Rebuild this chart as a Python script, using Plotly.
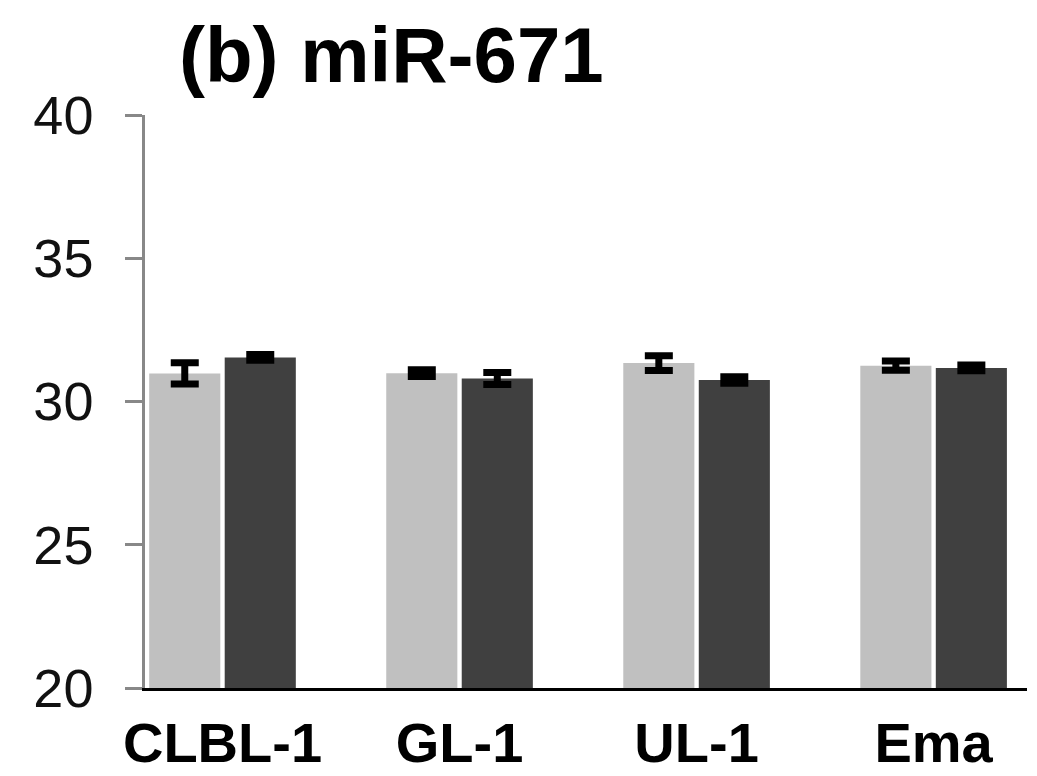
import plotly.graph_objects as go

categories = ["CLBL-1", "GL-1", "UL-1", "Ema"]
light_values = [30.98, 30.99, 31.34, 31.25]
light_errors = [0.37, 0.12, 0.26, 0.16]
dark_values = [31.54, 30.80, 30.75, 31.17]
dark_errors = [0.10, 0.21, 0.11, 0.10]
y_ticks = [20, 25, 30, 35, 40]

LIGHT = "#c0c0c0"
DARK = "#404040"

fig = go.Figure()
fig.add_trace(go.Bar(
    x=categories, y=light_values, marker=dict(color=LIGHT, line=dict(width=0)),
    error_y=dict(type="data", array=light_errors, visible=True,
                 color="black", thickness=7, width=14),
    showlegend=False,
))
fig.add_trace(go.Bar(
    x=categories, y=dark_values, marker=dict(color=DARK, line=dict(width=0)),
    error_y=dict(type="data", array=dark_errors, visible=True,
                 color="black", thickness=7, width=14),
    showlegend=False,
))

fig.update_layout(
    width=1037, height=776,
    margin=dict(l=145, r=10, t=115, b=88, autoexpand=False),
    paper_bgcolor="white", plot_bgcolor="white",
    barmode="group", bargap=0.363, bargroupgap=0.058,
    font=dict(family="Liberation Sans, Arial, sans-serif", color="black"),
    title=dict(
        text="<b>(b) miR-671</b>",
        font=dict(size=78, family="Liberation Sans, Arial, sans-serif", color="black"),
        x=179 / 1037, xanchor="left", xref="container",
        y=1 - 55 / 776, yanchor="middle", yref="container",
    ),
    xaxis=dict(
        type="category", range=[-0.327, 3.394], automargin=False,
        showline=True, linecolor="black", linewidth=3,
        ticks="", showgrid=False, zeroline=False,
        tickfont=dict(size=56, family="Liberation Sans, Arial, sans-serif",
                      color="black", weight="bold"),
        ticklabelstandoff=4,
    ),
    yaxis=dict(
        range=[20, 40], tickvals=y_ticks, automargin=False,
        showline=True, linecolor="#888888", linewidth=2.5,
        ticks="outside", ticklen=17, tickwidth=2.5, tickcolor="#888888",
        showgrid=False, zeroline=False,
        tickfont=dict(size=54, family="Liberation Sans, Arial, sans-serif", color="#111111"),
        ticklabelstandoff=21,
    ),
)

fig.write_html("out.html")
